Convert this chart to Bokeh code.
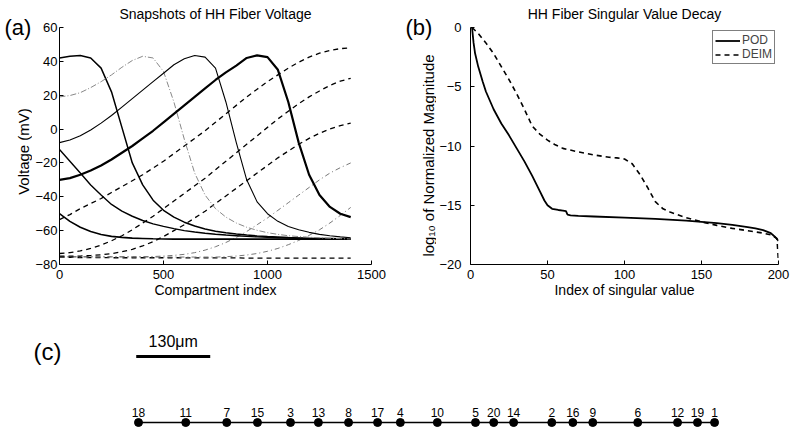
import math
from bokeh.plotting import figure
from bokeh.layouts import column, row
from bokeh.models import Range1d, FixedTicker, Legend, LegendItem
from bokeh.embed import file_html
from bokeh.resources import INLINE
from bokeh.core.properties import value

FONT = "Liberation Sans"

# ---------------- Panel (a): HH fiber voltage snapshots ----------------
compartments = [0, 50, 100, 150, 200, 250, 300, 350, 400, 450, 500, 550, 600, 650, 700,
                750, 800, 850, 900, 950, 1000, 1050, 1100, 1150, 1200, 1250, 1300, 1350, 1400]

v_s1 = [-50, -54.5, -58, -60.5, -62.3, -63.4, -64, -64.4, -64.6, -64.8, -64.9,
        -65, -65, -65, -65, -65, -65, -65, -65, -65, -65, -65, -65, -65, -65, -65, -65, -65, -65]
v_s2 = [-12, -19, -26, -33, -39, -44.5, -48.5, -51.5, -54, -56, -57.5, -58.8, -60, -60.8, -61.5,
        -62.1, -62.6, -63, -63.4, -63.7, -64, -64.2, -64.4, -64.5, -64.6, -64.7, -64.8, -64.9, -65]
v_s3 = [42, 43, 43.5, 42, 36, 22, 1, -20, -33, -42, -48, -52, -55, -57.3, -59,
        -60.3, -61.3, -62, -62.6, -63.1, -63.5, -63.8, -64.1, -64.3, -64.5, -64.6, -64.7, -64.8, -64.9]
v_s4 = [19, 19.8, 21.5, 24.5, 28, 32, 36.5, 40.5, 43, 42, 34, 16, -6, -26, -39,
        -47, -52, -55.5, -58, -59.8, -61.2, -62.2, -63, -63.5, -63.9, -64.2, -64.5, -64.7, -64.9]
v_s5 = [-8, -6.5, -4, -0.5, 3.5, 8, 13, 18, 23, 28, 33, 38, 41.5, 43.5, 42.5,
        36, 16, -8, -30, -43, -50, -54.5, -57.5, -59.5, -61, -62.2, -63, -63.7, -64.2]
v_s6 = [-30, -29, -27, -24.5, -21.5, -18, -14, -10, -5.5, -1, 4, 9, 14, 19, 24,
        29, 33.5, 37.5, 42, 43.5, 42.5, 35, 16, -8, -27, -39, -46, -50, -52]
v_d1 = [-53.5, -50.5, -47, -44, -41, -37.5, -34, -30.5, -27, -23, -19, -14.5, -10, -5.5, -1,
        4, 9, 14, 19, 23.5, 28, 32, 36, 39.5, 42.5, 44.8, 46.5, 47.5, 48]
v_d2 = [-73.5, -73, -72, -70.5, -68.5, -66, -63, -59.5, -55.5, -51.5, -47, -42.5, -38, -33.5, -29,
        -24, -19, -14, -9, -4, 1, 6, 10.5, 15, 19, 22.5, 25.8, 28.3, 30]
v_d3 = [-75, -75, -75, -74.7, -74.3, -73.6, -72.5, -71, -69, -66.5, -63.5, -60, -56.5, -52.5, -48.5,
        -44, -39.5, -35, -30.5, -26, -21.5, -17, -13, -9, -5.5, -2.5, 0, 2, 3.5]
v_d4 = [-75.3, -75.3, -75.3, -75.3, -75.3, -75.3, -75.3, -75.3, -75.3, -75.3, -75, -74.6, -74, -73, -71.5,
        -69.5, -67, -64, -60.5, -56.5, -52.5, -48, -43.5, -39, -34.5, -30, -26, -22.8, -20]
v_d5 = [-75.6, -75.6, -75.6, -75.6, -75.6, -75.6, -75.6, -75.6, -75.6, -75.6, -75.6, -75.6, -75.6, -75.6, -75.6,
        -75.6, -75.4, -75, -74.4, -73.5, -72.2, -70.5, -68.3, -65.8, -62.8, -59.5, -55.5, -51, -46.3]
v_d6 = [-75.8, -75.8, -75.9, -75.9, -75.9, -76, -76, -76, -76, -76, -76, -76, -76.1, -76.1, -76.1,
        -76.1, -76.1, -76.1, -76.2, -76.2, -76.2, -76.2, -76.2, -76.2, -76.2, -76.2, -76.2, -76.2, -76.2]

a_xticks = [0, 500, 1000, 1500]
a_yticks = [-80, -60, -40, -20, 0, 20, 40, 60]

# ---------------- Panel (b): singular value decay ----------------
pod_idx = [1, 2, 3, 5, 8, 10, 15, 20, 25, 30, 35, 40, 45, 48, 50, 53, 57, 60, 62, 63, 65, 70, 80,
           100, 120, 140, 150, 160, 170, 180, 185, 190, 195, 198, 200]
pod_val = [0, -1.3, -2.2, -3.3, -4.6, -5.4, -6.9, -8.1, -9.1, -10.2, -11.3, -12.5, -13.8, -14.6, -15.0,
           -15.3, -15.4, -15.45, -15.5, -15.8, -15.85, -15.9, -15.95, -16.05, -16.15, -16.3, -16.4,
           -16.5, -16.65, -16.85, -16.95, -17.1, -17.35, -17.7, -18.0]
deim_idx = [1, 5, 10, 15, 20, 25, 30, 35, 40, 45, 50, 55, 60, 70, 80, 90, 95, 100, 105, 110, 115,
            120, 125, 130, 140, 150, 160, 170, 180, 190, 195, 199, 200]
deim_val = [0, -0.5, -1.3, -2.2, -3.3, -4.4, -5.6, -6.9, -8.3, -9.0, -9.5, -9.9, -10.2, -10.5, -10.75,
            -10.95, -11.0, -11.1, -11.5, -12.4, -13.5, -14.7, -15.3, -15.6, -16.05, -16.4, -16.7,
            -16.95, -17.15, -17.35, -17.5, -17.8, -19.8]
b_xticks = [0, 50, 100, 150, 200]
b_yticks = [-20, -15, -10, -5, 0]

# ---------------- Panel (c): DEIM point ordering along the fiber ----------------
node_labels = ["18", "11", "7", "15", "3", "13", "8", "17", "4", "10",
               "5", "20", "14", "2", "16", "9", "6", "12", "19", "1"]
node_pos_um = [0, 83, 155, 209, 267, 316, 369, 420, 460, 525,
               592, 624, 659, 726, 763, 798, 877, 947, 982, 1012]
scale_bar_um = 130

TOP_H = 300


def no_frame_align(p):
    try:
        p.frame_align = False
    except Exception:
        pass


def style(p, xticks, yticks, ystand):
    p.xaxis.ticker = FixedTicker(ticks=xticks)
    p.yaxis.ticker = FixedTicker(ticks=yticks)
    for ax in p.axis:
        ax.major_tick_in = 4
        ax.major_tick_out = 0
        ax.minor_tick_in = 0
        ax.minor_tick_out = 0
        ax.axis_line_color = "black"
        ax.major_tick_line_color = "black"
        ax.major_label_text_font = FONT
        ax.major_label_text_font_size = "13px"
        ax.major_label_text_color = "black"
        ax.axis_label_text_font = FONT
        ax.axis_label_text_font_size = "14px"
        ax.axis_label_text_font_style = "normal"
        ax.axis_label_text_color = "black"
        ax.axis_label_standoff = 0
    p.xaxis.major_label_standoff = 5
    p.yaxis.major_label_standoff = ystand
    p.grid.visible = False
    p.outline_line_color = None
    p.title.text_font = FONT
    p.title.text_font_style = "normal"
    p.title.text_font_size = "14px"
    p.title.text_color = "black"
    p.title.align = "center"
    p.title.vertical_align = "top"
    p.title.standoff = 8
    no_frame_align(p)


def strip(width, panel_tag, tag_x, ylabel, ylabel_x, ylabel_y, ylabel_size):
    s = figure(width=width, height=TOP_H, x_range=Range1d(0, width), y_range=Range1d(TOP_H, 0),
               toolbar_location=None, output_backend="svg", min_border=0)
    no_frame_align(s)
    s.axis.visible = False
    s.grid.visible = False
    s.outline_line_color = None
    s.text([tag_x], [27], text=[panel_tag], text_font=value(FONT), text_font_size="22px",
           text_align="left", text_baseline="middle", text_color="black")
    s.text([ylabel_x], [ylabel_y], text=[ylabel], angle=math.pi / 2, text_font=value(FONT),
           text_font_size=ylabel_size, text_align="center", text_baseline="middle", text_color="black")
    return s


# ----- panel a -----
strip_a = strip(32, "(a)", 4, "Voltage (mV)", 22.5, 151, "15px")
pa = figure(width=368, height=TOP_H, x_range=Range1d(0, 1500), y_range=Range1d(-80, 60),
            title="Snapshots of HH Fiber Voltage", toolbar_location=None, output_backend="svg",
            min_border_left=27, min_border_right=29, min_border_top=27, min_border_bottom=33,
            x_axis_label="Compartment index")
style(pa, a_xticks, a_yticks, 2)

pa.line(compartments, v_d6, line_color="black", line_width=1.3, line_dash="5 4")
pa.line(compartments, v_d5, line_color="#777777", line_width=1.0, line_dash="5 3 1 3")
pa.line(compartments, v_d4, line_color="#777777", line_width=1.0, line_dash="5 3 1 3")
pa.line(compartments, v_d3, line_color="black", line_width=1.3, line_dash="5 4")
pa.line(compartments, v_d2, line_color="black", line_width=1.3, line_dash="5 4")
pa.line(compartments, v_d1, line_color="black", line_width=1.3, line_dash="5 4")
pa.line(compartments, v_s1, line_color="black", line_width=1.6)
pa.line(compartments, v_s2, line_color="black", line_width=1.4)
pa.line(compartments, v_s3, line_color="black", line_width=1.5)
pa.line(compartments, v_s4, line_color="#888888", line_width=1.0, line_dash="6 2 1 2")
pa.line(compartments, v_s5, line_color="black", line_width=1.1)
pa.line(compartments, v_s6, line_color="black", line_width=2.2)

# ----- panel b -----
strip_b = strip(36, "(b)", 5, "log\u2081\u2080 of Normalized Magnitude", 28, 155, "15px")
pb = figure(width=355, height=TOP_H, x_range=Range1d(0, 200), y_range=Range1d(-20, 0),
            title="HH Fiber Singular Value Decay", toolbar_location=None, output_backend="svg",
            min_border_left=34, min_border_right=13, min_border_top=27, min_border_bottom=33,
            x_axis_label="Index of singular value")
style(pb, b_xticks, b_yticks, 9)

r_pod = pb.line(pod_idx, pod_val, line_color="black", line_width=1.8)
r_deim = pb.line(deim_idx, deim_val, line_color="black", line_width=1.6, line_dash="5 4")

leg = Legend(items=[LegendItem(label="POD", renderers=[r_pod]),
                    LegendItem(label="DEIM", renderers=[r_deim])],
             location="top_right", border_line_color="black", border_line_width=1,
             padding=2, spacing=0, margin=3, label_text_font=FONT, label_text_font_size="12px",
             label_height=11, glyph_height=11, glyph_width=25, label_standoff=2,
             background_fill_alpha=1.0)
pb.add_layout(leg)

# ----- panel c -----
PX_PER_UM = 74 / 130.0
X0_PX = 138
pc = figure(width=791, height=132,
            x_range=Range1d(-X0_PX / PX_PER_UM, (791 - X0_PX) / PX_PER_UM),
            y_range=Range1d(132, 0), toolbar_location=None, output_backend="svg",
            min_border=0)
no_frame_align(pc)
pc.axis.visible = False
pc.grid.visible = False
pc.outline_line_color = None

NODE_Y = 122
pc.line(node_pos_um, [NODE_Y] * len(node_pos_um), line_color="black", line_width=1.6)
pc.scatter(node_pos_um, [NODE_Y] * len(node_pos_um), size=8, fill_color="black", line_color="black")
pc.text(node_pos_um, [116] * len(node_pos_um), text=node_labels, text_font=value(FONT),
        text_font_size="12px", text_align="center", text_baseline="bottom", text_color="black")

bar_start = -4
pc.segment(x0=[bar_start], y0=[56], x1=[bar_start + scale_bar_um], y1=[56],
           line_color="black", line_width=3)
pc.text([bar_start + scale_bar_um / 2], [49], text=["130\u03bcm"], text_font=value(FONT),
        text_font_size="16px", text_align="center", text_baseline="bottom", text_color="black")
pc.text([-160], [51], text=["(c)"], text_font=value(FONT), text_font_size="24px",
        text_align="center", text_baseline="middle", text_color="black")

layout = column(row(strip_a, pa, strip_b, pb), pc)
open("out.html", "w").write(file_html(layout, INLINE))
